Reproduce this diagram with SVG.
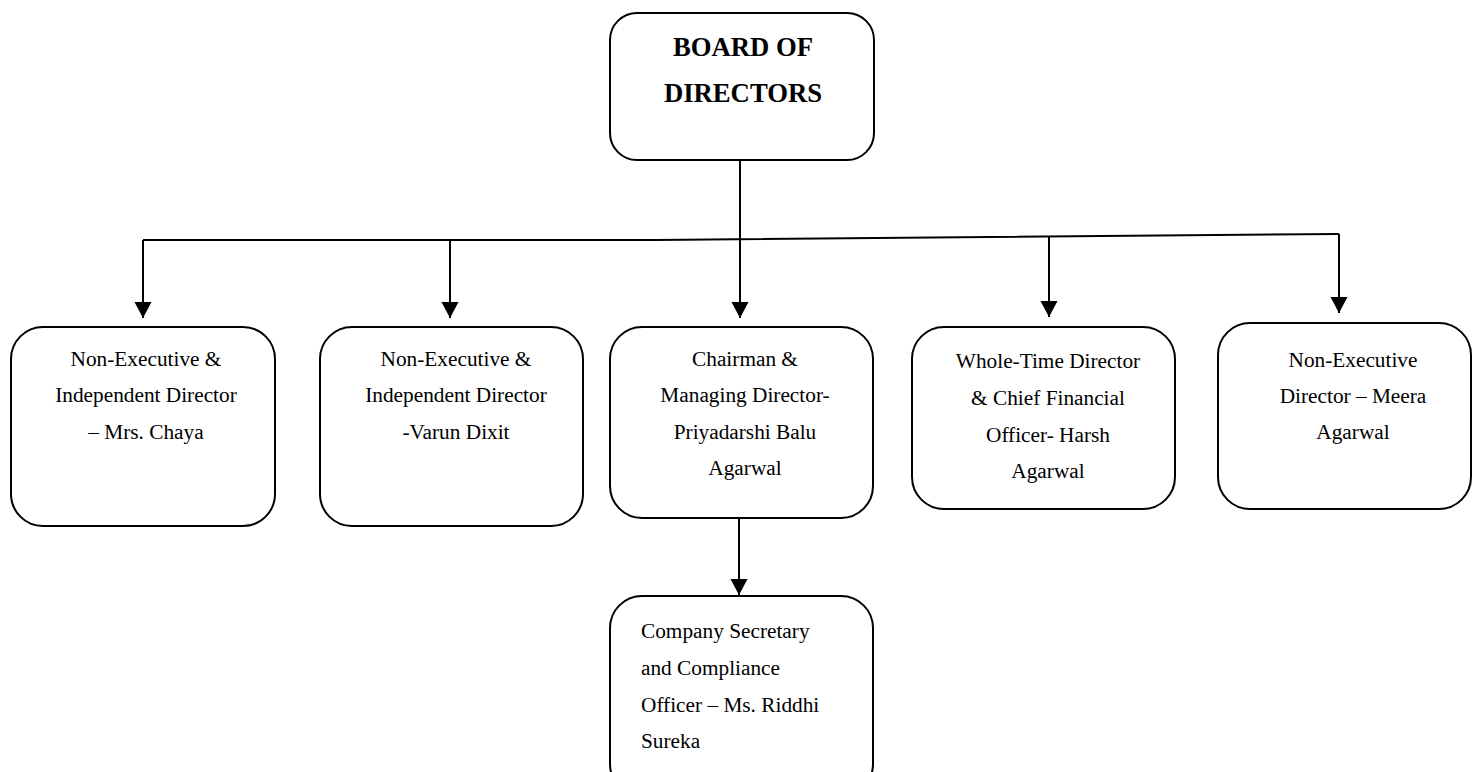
<svg xmlns="http://www.w3.org/2000/svg" width="1473" height="772" viewBox="0 0 1473 772">
<style>
.box{fill:#fff;stroke:#000;stroke-width:2}
.ln{fill:none;stroke:#000;stroke-width:2}
.t{font-family:"Liberation Serif","Times New Roman",serif;font-size:21.3px;fill:#000;text-anchor:middle}
.tl{font-family:"Liberation Serif","Times New Roman",serif;font-size:21.3px;fill:#000}
.b{font-family:"Liberation Serif","Times New Roman",serif;font-size:26.7px;font-weight:bold;fill:#000;text-anchor:middle}
</style>
<defs>
<marker id="arr" markerUnits="userSpaceOnUse" markerWidth="18" markerHeight="16" viewBox="0 0 16 15" refX="8" refY="15" orient="0">
<path d="M0,0 L16,0 L8,15 Z" fill="#000"/>
</marker>
</defs>
<rect width="1473" height="772" fill="#fff"/>
<g id="connectors">
<line class="ln" x1="740" y1="160" x2="740" y2="318" marker-end="url(#arr)"/>
<path class="ln" d="M143,240 H656 L1339,234"/>
<line class="ln" x1="143" y1="240" x2="143" y2="318" marker-end="url(#arr)"/>
<line class="ln" x1="450" y1="240" x2="450" y2="318" marker-end="url(#arr)"/>
<line class="ln" x1="1049" y1="237" x2="1049" y2="317" marker-end="url(#arr)"/>
<line class="ln" x1="1339" y1="234" x2="1339" y2="313" marker-end="url(#arr)"/>
<line class="ln" x1="739" y1="518" x2="739" y2="595" marker-end="url(#arr)"/>
</g>
<g id="board">
<rect class="box" x="610" y="13" width="264" height="147" rx="27"/>
<text class="b" x="743" y="56">BOARD OF</text>
<text class="b" x="743" y="102">DIRECTORS</text>
</g>
<g id="chaya">
<rect class="box" x="11" y="327" width="264" height="199" rx="32"/>
<text class="t" x="146" y="366">Non-Executive &amp;</text>
<text class="t" x="146" y="402">Independent Director</text>
<text class="t" x="146" y="439">– Mrs. Chaya</text>
</g>
<g id="varun">
<rect class="box" x="320" y="327" width="263" height="199" rx="32"/>
<text class="t" x="456" y="366">Non-Executive &amp;</text>
<text class="t" x="456" y="402">Independent Director</text>
<text class="t" x="456" y="439">-Varun Dixit</text>
</g>
<g id="chairman">
<rect class="box" x="610" y="327" width="263" height="191" rx="32"/>
<text class="t" x="745" y="366">Chairman &amp;</text>
<text class="t" x="745" y="402">Managing Director-</text>
<text class="t" x="745" y="439">Priyadarshi Balu</text>
<text class="t" x="745" y="475">Agarwal</text>
</g>
<g id="harsh">
<rect class="box" x="912" y="327" width="263" height="182" rx="32"/>
<text class="t" x="1048" y="368">Whole-Time Director</text>
<text class="t" x="1048" y="405">&amp; Chief Financial</text>
<text class="t" x="1048" y="442">Officer- Harsh</text>
<text class="t" x="1048" y="478">Agarwal</text>
</g>
<g id="meera">
<rect class="box" x="1218" y="323" width="253" height="186" rx="32"/>
<text class="t" x="1353" y="367">Non-Executive</text>
<text class="t" x="1353" y="403">Director – Meera</text>
<text class="t" x="1353" y="439">Agarwal</text>
</g>
<g id="secretary">
<rect class="box" x="610" y="596" width="263" height="200" rx="32"/>
<text class="tl" x="641" y="638">Company Secretary</text>
<text class="tl" x="641" y="675">and Compliance</text>
<text class="tl" x="641" y="712">Officer – Ms. Riddhi</text>
<text class="tl" x="641" y="748">Sureka</text>
</g>
</svg>
